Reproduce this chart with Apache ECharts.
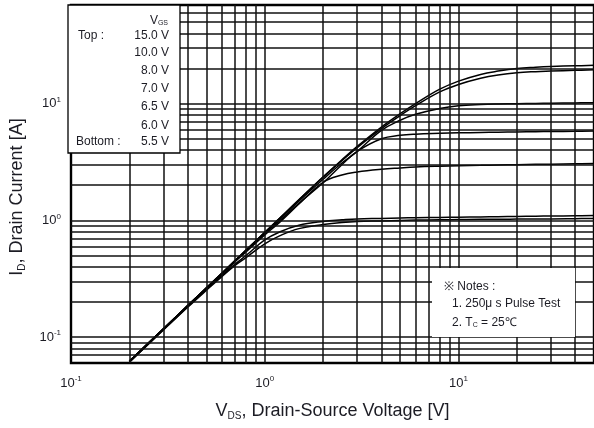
<!DOCTYPE html>
<html>
<head>
<meta charset="utf-8">
<script src="https://cdn.jsdelivr.net/npm/echarts@6/dist/echarts.min.js"></script>
<style>html,body{margin:0;padding:0;background:#fff}#c{width:594px;height:428px}</style>
</head>
<body>
<div id="c"></div>
<script>
// ---- data ----
const vds = [0.2,0.3,0.4,0.5,0.6,0.7,0.8,1.0,1.2,1.5,2,2.5,3,4,5,6,8,10,13,16,20,25,30,40,50];
const id15 = [0.062,0.118,0.186,0.264,0.352,0.45,0.556,0.79,1.05,1.5,2.36,3.3,4.3,6.3,8.2,10.0,13.3,15.6,17.8,19.0,20.0,20.5,20.8,21.1,21.3];
const id10 = [0.062,0.118,0.186,0.264,0.352,0.45,0.556,0.79,1.05,1.5,2.34,3.25,4.2,6.1,7.9,9.6,12.6,14.6,16.5,17.6,18.4,18.8,19.0,19.3,19.5];
const id8  = [0.062,0.118,0.186,0.264,0.35,0.448,0.55,0.78,1.03,1.46,2.25,3.1,3.9,5.9,7.2,8.1,9.1,9.6,9.85,9.95,10.0,10.05,10.1,10.15,10.2];
const id7  = [0.062,0.118,0.185,0.262,0.348,0.445,0.545,0.77,1.0,1.4,2.1,3.0,3.9,5.0,5.35,5.48,5.57,5.62,5.66,5.69,5.72,5.75,5.77,5.8,5.84];
const id65 = [0.062,0.117,0.184,0.26,0.344,0.44,0.537,0.75,0.97,1.38,2.12,2.45,2.6,2.74,2.81,2.86,2.91,2.94,2.96,2.98,3.0,3.02,3.03,3.05,3.07];
const id6  = [0.061,0.116,0.182,0.256,0.335,0.42,0.5,0.68,0.8,0.91,0.98,1.01,1.03,1.04,1.05,1.055,1.06,1.065,1.07,1.075,1.08,1.085,1.09,1.095,1.1];
const id55 = [0.061,0.115,0.18,0.252,0.33,0.41,0.48,0.63,0.74,0.85,0.92,0.96,0.98,0.99,1.0,1.005,1.01,1.015,1.02,1.02,1.025,1.03,1.03,1.035,1.04];
const curves = [id15, id10, id8, id7, id65, id6, id55];
const vgsLabels = ['15.0 V','10.0 V','8.0 V','7.0 V','6.5 V','6.0 V','5.5 V'];
const xTicks = [0.1, 1, 10];
const yTicks = [0.1, 1, 10];
const xGridValues = [0.2,0.3,0.4,0.5,0.6,0.7,0.8,0.9,1,2,3,4,5,6,7,8,9,10,20,30,40];
const yGridValues = [0.07,0.08,0.09,0.1,0.2,0.3,0.4,0.5,0.6,0.7,0.8,0.9,1,2,3,4,5,6,7,8,9,10,20,30,40,50,60];

const FF = '"Liberation Sans", Arial, sans-serif';
const TXT = '#1c1c24';

function expLabel(v){
  const e = Math.log10(v);
  const r = Math.round(e);
  if (Math.abs(e - r) > 1e-6) return '';
  return '{b|10}{s|' + r + '}';
}
const tickRich = {
  b: {fontSize: 13, fontFamily: FF, color: TXT},
  s: {fontSize: 8, fontFamily: FF, color: TXT, padding: [0,0,8,0]}
};

const chart = echarts.init(document.getElementById('c'), null, {renderer:'canvas'});

const series = [];
series.push({
  type:'line', data:[[1,1]], symbol:'none', lineStyle:{opacity:0}, silent:true, z:1,
  markLine:{
    silent:true, symbol:['none','none'], label:{show:false}, animation:false,
    lineStyle:{color:'#111', width:1.5, type:'solid'},
    emphasis:{disabled:true},
    data: xGridValues.map(v => ({xAxis:v})).concat(yGridValues.map(v => ({yAxis:v})))
  }
});
curves.forEach((c, i) => {
  series.push({
    type:'line', name: vgsLabels[i], data: vds.map((x, j) => [x, c[j]]),
    smooth: 0.4, symbol:'none', z: 3,
    lineStyle:{color:'#000', width:1.5}
  });
});

const option = {
  animation:false,
  backgroundColor:'#fff',
  grid:{left:68, top:5, width:529, height:358, show:true, borderColor:'#000', borderWidth:2.4, backgroundColor:'#fff'},
  xAxis:{
    type:'log', logBase:10, min:0.1, max:50,
    axisLine:{show:false}, axisTick:{show:false}, splitLine:{show:false},
    axisLabel:{customValues: xTicks, formatter: expLabel, rich: tickRich, margin: 12},
    name:'{n|V}{sub|DS}{n|, Drain-Source Voltage [V]}',
    nameLocation:'middle', nameGap: 38,
    nameTextStyle:{rich:{n:{fontSize:18, fontFamily:FF, color:TXT}, sub:{fontSize:10, fontFamily:FF, color:TXT, padding:[10,0,0,0]}}}
  },
  yAxis:{
    type:'log', logBase:10, min:0.06, max:70,
    axisLine:{show:false}, axisTick:{show:false}, splitLine:{show:false},
    axisLabel:{customValues: yTicks, formatter: expLabel, rich: tickRich, margin: 10},
    name:'{n|I}{sub|D}{n|, Drain Current [A]}',
    nameLocation:'middle', nameGap: 44, nameRotate: 90,
    nameTextStyle:{padding:[0,26,0,0], rich:{n:{fontSize:18, fontFamily:FF, color:TXT}, sub:{fontSize:10, fontFamily:FF, color:TXT, padding:[10,0,0,0]}}}
  },
  series: series,
  graphic: [
    {type:'rect', z:100, shape:{x:68, y:5, width:112, height:148}, style:{fill:'#fff', stroke:'#000', lineWidth:1.3}},
    {type:'text', z:101, x:168, y:14, style:{text:'{v|V}{s|GS}', align:'right', rich:{v:{fontSize:12, fontFamily:FF, fill:TXT}, s:{fontSize:7, fontFamily:FF, fill:TXT, padding:[6,0,0,0]}}}},
    {type:'text', z:101, x:78, y:30, style:{text:'Top :', fontSize:12, fontFamily:FF, fill:TXT}},
    {type:'text', z:101, x:76, y:136, style:{text:'Bottom :', fontSize:12, fontFamily:FF, fill:TXT}},
    ...vgsLabels.map((t, i) => ({type:'text', z:101, x:169, y:[30,47,65,83,101,120,136][i], style:{text:t, fontSize:12, fontFamily:FF, fill:TXT, align:'right'}})),
    {type:'rect', z:100, shape:{x:432, y:268, width:143, height:69}, style:{fill:'#fff', lineWidth:0}},
    {type:'text', z:101, x:444, y:281, style:{text:'※ Notes :', fontSize:12, fontFamily:FF, fill:TXT}},
    {type:'text', z:101, x:452, y:298, style:{text:'1. 250μ s Pulse Test', fontSize:12, fontFamily:FF, fill:TXT}},
    {type:'text', z:101, x:452, y:316, style:{text:'{a|2. T}{s|C}{a| = 25℃}', rich:{a:{fontSize:12, fontFamily:FF, fill:TXT}, s:{fontSize:7, fontFamily:FF, fill:TXT, padding:[6,0,0,0]}}}}
  ]
};
chart.setOption(option);
</script>
</body>
</html>
